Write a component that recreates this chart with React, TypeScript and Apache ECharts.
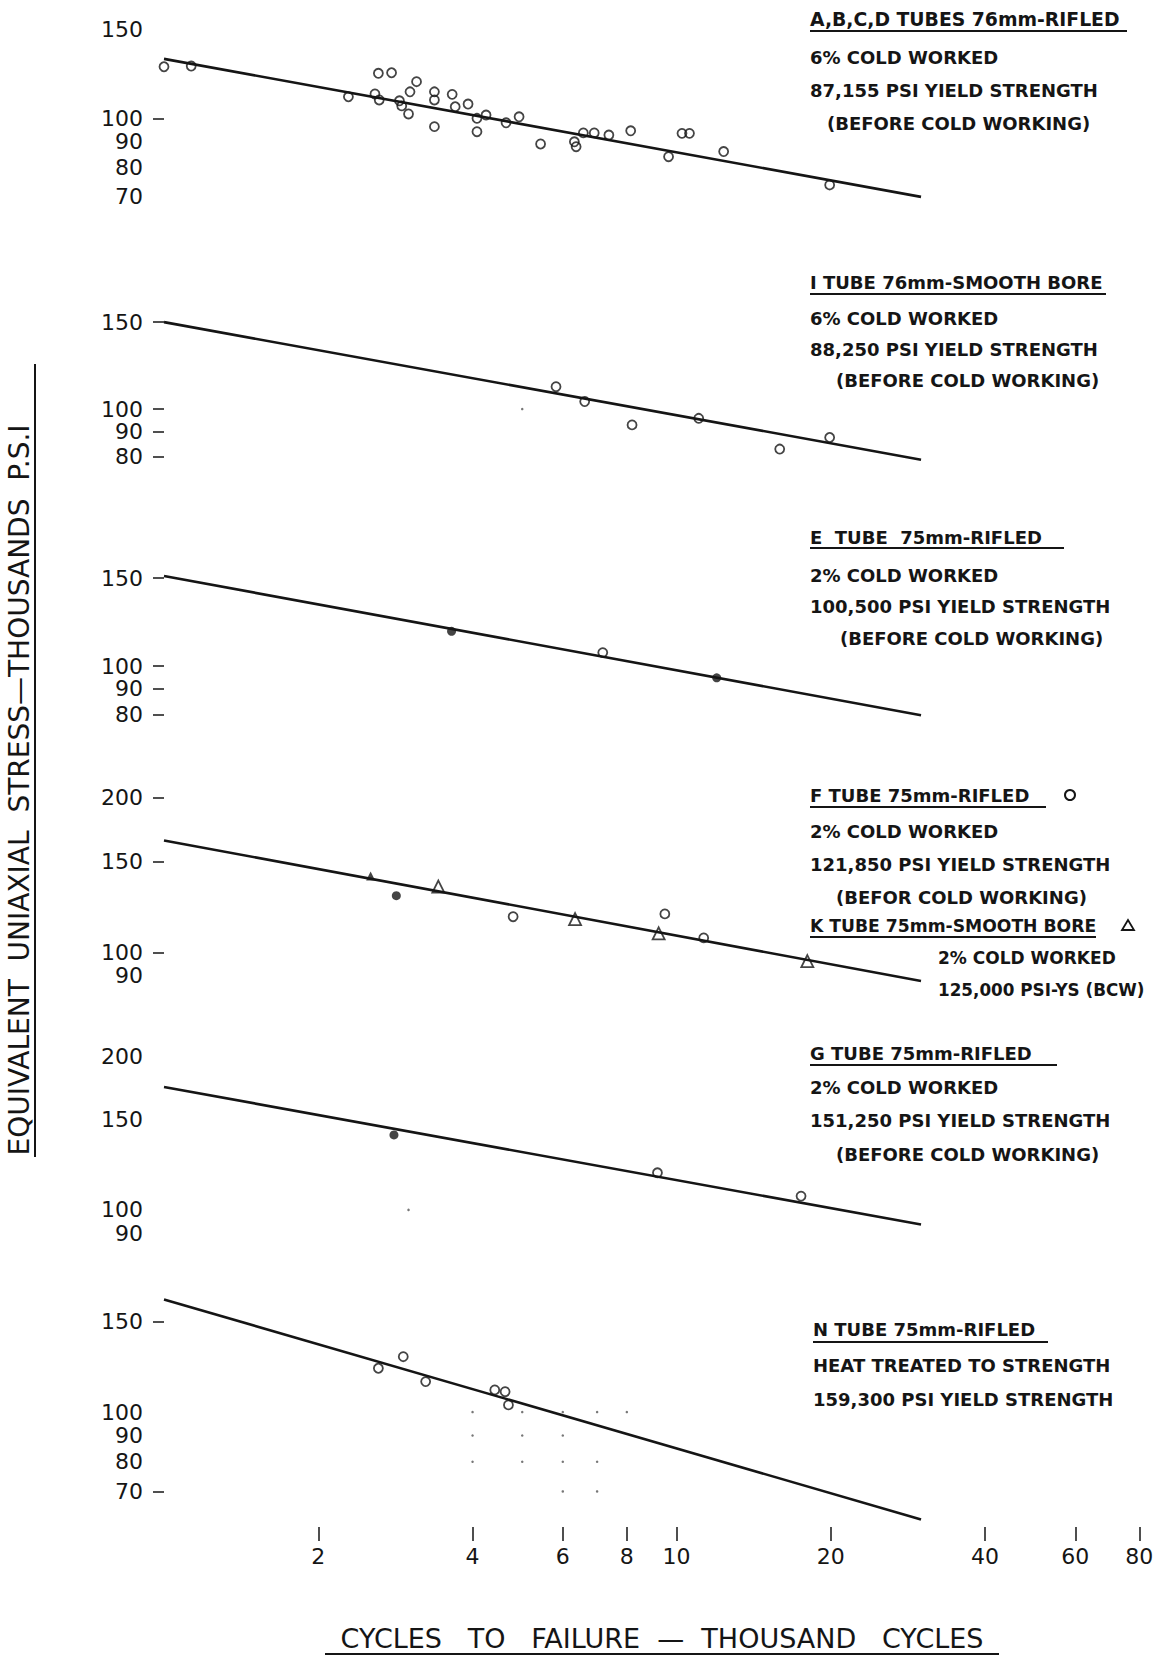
import React, { useEffect, useRef } from "react";
import * as echarts from "echarts";

// ---------- DATA ----------
// x axis (thousand cycles)
const xTickCycles = [2, 4, 6, 8, 10, 20, 40, 60, 80];

// Panel 1: A,B,C,D tubes 76mm rifled
const abcdCycles = [1.0, 1.13, 2.29, 2.62, 2.78, 2.58, 2.63, 2.88, 2.91, 3.0, 3.11, 3.02, 3.37, 3.37, 3.37, 3.65, 3.7, 3.92, 4.08, 4.08, 4.25, 4.65, 4.93, 5.43, 6.32, 6.37, 6.58, 6.91, 7.38, 8.14, 9.65, 10.25, 10.6, 12.36, 19.9];
const abcdStress = [126.4, 126.8, 110.3, 122.7, 123.0, 111.7, 108.7, 108.3, 105.8, 102.0, 118.1, 112.8, 112.8, 108.7, 96.3, 111.5, 105.4, 106.7, 100.0, 94.1, 101.5, 98.0, 100.7, 89.0, 89.9, 87.9, 93.6, 93.6, 92.7, 94.5, 84.0, 93.4, 93.4, 86.0, 73.9];
const abcdFitCycles = [1, 30];
const abcdFitStress = [131, 70];
const abcdTicks = [150, 100, 90, 80, 70];
const abcdDashes = [100];

// Panel 2: I tube 76mm smooth bore
const iCycles = [5.82, 6.62, 8.19, 11.05, 15.9, 19.9];
const iStress = [111.0, 103.6, 92.9, 95.8, 83.0, 87.6];
const iFitCycles = [1, 30];
const iFitStress = [150, 79];
const iDotCycles = [5];
const iDotStress = [100];
const iTicks = [150, 100, 90, 80];
const iDashes = [150, 100, 90, 80];

// Panel 3: E tube 75mm rifled
const eOpenCycles = [7.18];
const eOpenStress = [106.4];
const eFilledCycles = [3.64, 11.98];
const eFilledStress = [117.4, 94.7];
const eFitCycles = [1, 30];
const eFitStress = [151.5, 79.7];
const eTicks = [150, 100, 90, 80];
const eDashes = [150, 100, 90, 80];

// Panel 4: F tube (circles) and K tube (triangles)
const fOpenCycles = [4.8, 9.49, 11.3];
const fOpenStress = [117.3, 118.8, 106.7];
const fFilledCycles = [2.84];
const fFilledStress = [128.9];
const kOpenCycles = [3.43, 6.34, 9.23, 18.0];
const kOpenStress = [134.2, 116.1, 108.9, 96.2];
const kFilledCycles = [2.53];
const kFilledStress = [140.7];
const fkFitCycles = [1, 30];
const fkFitStress = [165, 88];
const fkTicks = [200, 150, 100, 90];
const fkDashes = [200, 150, 100];

// Panel 5: G tube 75mm rifled
const gOpenCycles = [9.18, 17.5];
const gOpenStress = [118.2, 106.4];
const gFilledCycles = [2.81];
const gFilledStress = [140.2];
const gFitCycles = [1, 30];
const gFitStress = [174, 93.6];
const gDotCycles = [3];
const gDotStress = [100];
const gTicks = [200, 150, 100, 90];
const gDashes: number[] = [];

// Panel 6: N tube 75mm rifled
const nCycles = [2.62, 2.93, 3.24, 4.42, 4.63, 4.7];
const nStress = [121.8, 128.3, 114.7, 110.5, 109.6, 103.3];
const nFitCycles = [1, 30];
const nFitStress = [166, 61.7];
const nDotCycles = [4, 5, 6, 7, 8, 4, 5, 6, 4, 5, 6, 7, 6, 7];
const nDotStress = [100, 100, 100, 100, 100, 90, 90, 90, 80, 80, 80, 80, 70, 70];
const nTicks = [150, 100, 90, 80, 70];
const nDashes = [150, 70];

// ---------- LAYOUT ----------
const LOG = (v: number) => Math.log10(v);
const toPts = (xs: number[], ys: number[]) => xs.map((x, i) => [LOG(x), LOG(ys[i])]);

const GRID_LEFT = 164;
const DECADE_PX = 512.5;
const X_MIN = LOG(1);
const X_MAX = LOG(85);
const GRID_W = DECADE_PX * (X_MAX - X_MIN);
const INK = "#151515";
const FONT = "DejaVu Sans";

type Mark = { kind: string; xs: number[]; ys: number[] };
type Panel = {
  top: number; height: number; yc: number; lc: number; dec: number;
  ticks: number[]; dashes: number[]; fit: [number[], number[]]; marks: Mark[];
};

const panels: Panel[] = [
  { top: 0, height: 230, yc: 130.7, lc: 1.9756, dec: 507, ticks: abcdTicks, dashes: abcdDashes,
    fit: [abcdFitCycles, abcdFitStress], marks: [{ kind: "open", xs: abcdCycles, ys: abcdStress }] },
  { top: 250, height: 230, yc: 405, lc: 2.0083, dec: 494, ticks: iTicks, dashes: iDashes,
    fit: [iFitCycles, iFitStress], marks: [{ kind: "open", xs: iCycles, ys: iStress }, { kind: "dot", xs: iDotCycles, ys: iDotStress }] },
  { top: 500, height: 240, yc: 661.9, lc: 2.0083, dec: 499, ticks: eTicks, dashes: eDashes,
    fit: [eFitCycles, eFitStress], marks: [{ kind: "open", xs: eOpenCycles, ys: eOpenStress }, { kind: "filled", xs: eFilledCycles, ys: eFilledStress }] },
  { top: 750, height: 250, yc: 896.9, lc: 2.1078, dec: 515, ticks: fkTicks, dashes: fkDashes,
    fit: [fkFitCycles, fkFitStress], marks: [
      { kind: "open", xs: fOpenCycles, ys: fOpenStress },
      { kind: "filled", xs: fFilledCycles, ys: fFilledStress },
      { kind: "tri", xs: kOpenCycles, ys: kOpenStress },
      { kind: "triFilled", xs: kFilledCycles, ys: kFilledStress },
    ] },
  { top: 1010, height: 240, yc: 1154.8, lc: 2.1078, dec: 511, ticks: gTicks, dashes: gDashes,
    fit: [gFitCycles, gFitStress], marks: [
      { kind: "open", xs: gOpenCycles, ys: gOpenStress },
      { kind: "filled", xs: gFilledCycles, ys: gFilledStress },
      { kind: "dot", xs: gDotCycles, ys: gDotStress },
    ] },
  { top: 1260, height: 267, yc: 1424.6, lc: 1.9756, dec: 512, ticks: nTicks, dashes: nDashes,
    fit: [nFitCycles, nFitStress], marks: [
      { kind: "open", xs: nCycles, ys: nStress },
      { kind: "dot", xs: nDotCycles, ys: nDotStress },
    ] },
];

const markStyle: Record<string, any> = {
  open: { symbol: "circle", symbolSize: 9, itemStyle: { color: "rgba(0,0,0,0)", borderColor: INK, borderWidth: 1.8 } },
  filled: { symbol: "circle", symbolSize: 9, itemStyle: { color: INK, borderColor: INK, borderWidth: 0 } },
  tri: { symbol: "triangle", symbolSize: 12, itemStyle: { color: "rgba(0,0,0,0)", borderColor: INK, borderWidth: 1.8 } },
  triFilled: { symbol: "triangle", symbolSize: 9, itemStyle: { color: INK, borderColor: INK, borderWidth: 0 } },
  dot: { symbol: "circle", symbolSize: 2.5, itemStyle: { color: "#555", borderWidth: 0 } },
};

const txt = (text: string, x: number, y: number, size = 18, weight: any = "bold", align = "left") => ({
  type: "text",
  x,
  y,
  style: {
    text,
    fontSize: size,
    fontFamily: FONT,
    fontWeight: weight,
    fill: INK,
    textAlign: align,
    align,
    textVerticalAlign: "middle",
    verticalAlign: "middle",
  },
});
const hline = (x1: number, x2: number, y: number, w = 2) => ({
  type: "line",
  shape: { x1, y1: y, x2, y2: y },
  style: { stroke: INK, lineWidth: w },
});

function buildOption() {
  const grids = panels.map((p) => ({
    left: GRID_LEFT, top: p.top, width: GRID_W, height: p.height, outerBoundsMode: "none",
  }));
  const xAxes = panels.map((p, i) => ({
    type: "value",
    gridIndex: i,
    min: X_MIN,
    max: X_MAX,
    show: i === panels.length - 1,
    position: "bottom",
    axisLine: { show: false },
    splitLine: { show: false },
    axisTick: { show: true, customValues: xTickCycles.map(LOG), length: 14, lineStyle: { color: INK, width: 1.5 } },
    axisLabel: {
      customValues: xTickCycles.map(LOG),
      margin: 18,
      fontFamily: FONT,
      fontSize: 22,
      color: INK,
      formatter: (v: number) => String(Math.round(Math.pow(10, v))),
    },
  }));
  const yAxes = panels.map((p, i) => {
    const yMax = p.lc + (p.yc - p.top) / p.dec;
    const yMin = p.lc - (p.top + p.height - p.yc) / p.dec;
    return {
      type: "value",
      gridIndex: i,
      min: yMin,
      max: yMax,
      offset: 4,
      axisLine: { show: false },
      splitLine: { show: false },
      axisTick: p.dashes.length
        ? { show: true, customValues: p.dashes.map(LOG), length: 11, lineStyle: { color: INK, width: 1.5 } }
        : { show: false },
      axisLabel: {
        customValues: p.ticks.map(LOG),
        margin: 17,
        fontFamily: FONT,
        fontSize: 22,
        color: INK,
        formatter: (v: number) => String(Math.round(Math.pow(10, v))),
      },
    };
  });
  const series: any[] = [];
  panels.forEach((p, i) => {
    series.push({
      type: "line",
      xAxisIndex: i,
      yAxisIndex: i,
      data: toPts(p.fit[0], p.fit[1]),
      symbol: "none",
      silent: true,
      z: 2,
      lineStyle: { color: INK, width: 2.6 },
    });
    p.marks.forEach((m) => {
      series.push({
        type: "scatter",
        xAxisIndex: i,
        yAxisIndex: i,
        data: toPts(m.xs, m.ys),
        z: 3,
        silent: true,
        ...markStyle[m.kind],
      });
    });
  });

  const elements: any[] = [
    // Panel 1
    txt("A,B,C,D TUBES 76mm-RIFLED", 810, 19, 18.8), hline(810, 1127, 31),
    txt("6% COLD WORKED", 810, 57),
    txt("87,155 PSI YIELD STRENGTH", 810, 90),
    txt("(BEFORE COLD WORKING)", 827, 123),
    // Panel 2
    txt("I TUBE 76mm-SMOOTH BORE", 810, 282), hline(810, 1106, 294),
    txt("6% COLD WORKED", 810, 318),
    txt("88,250 PSI YIELD STRENGTH", 810, 349),
    txt("(BEFORE COLD WORKING)", 836, 380),
    // Panel 3
    txt("E  TUBE  75mm-RIFLED", 810, 537), hline(810, 1064, 548),
    txt("2% COLD WORKED", 810, 575),
    txt("100,500 PSI YIELD STRENGTH", 810, 606),
    txt("(BEFORE COLD WORKING)", 840, 638),
    // Panel 4
    txt("F TUBE 75mm-RIFLED", 810, 795), hline(810, 1046, 807),
    { type: "circle", shape: { cx: 1070, cy: 795, r: 5 }, style: { fill: "none", stroke: INK, lineWidth: 2 } },
    txt("2% COLD WORKED", 810, 831),
    txt("121,850 PSI YIELD STRENGTH", 810, 864),
    txt("(BEFOR COLD WORKING)", 836, 897),
    txt("K TUBE 75mm-SMOOTH BORE", 810, 926, 17.2), hline(810, 1096, 937),
    { type: "polygon", shape: { points: [[1128, 920], [1122, 930], [1134, 930]] }, style: { fill: "none", stroke: INK, lineWidth: 1.8 } },
    txt("2% COLD WORKED", 938, 958, 17),
    txt("125,000 PSI-YS (BCW)", 938, 990, 16.8),
    // Panel 5
    txt("G TUBE 75mm-RIFLED", 810, 1053), hline(810, 1057, 1065),
    txt("2% COLD WORKED", 810, 1087),
    txt("151,250 PSI YIELD STRENGTH", 810, 1120),
    txt("(BEFORE COLD WORKING)", 836, 1154),
    // Panel 6
    txt("N TUBE 75mm-RIFLED", 813, 1329), hline(813, 1048, 1342),
    txt("HEAT TREATED TO STRENGTH", 813, 1365),
    txt("159,300 PSI YIELD STRENGTH", 813, 1399),
    // Axis titles
    txt("CYCLES   TO   FAILURE  —  THOUSAND   CYCLES", 662, 1638, 27, "normal", "center"),
    hline(325, 999, 1654, 2),
    {
      type: "text",
      x: 19,
      y: 790,
      rotation: Math.PI / 2,
      style: {
        text: "EQUIVALENT  UNIAXIAL  STRESS—THOUSANDS  P.S.I",
        fontSize: 28,
        fontFamily: FONT,
        fill: INK,
        textAlign: "center",
        align: "center",
        textVerticalAlign: "middle",
        verticalAlign: "middle",
      },
    },
    { type: "line", shape: { x1: 35, y1: 364, x2: 35, y2: 1157 }, style: { stroke: INK, lineWidth: 2 } },
  ];

  return {
    animation: false,
    backgroundColor: "#ffffff",
    grid: grids,
    xAxis: xAxes,
    yAxis: yAxes,
    series,
    graphic: { elements },
  };
}

export default function App() {
  const ref = useRef<HTMLDivElement>(null);
  useEffect(() => {
    if (!ref.current) return;
    const chart = echarts.init(ref.current, undefined, { renderer: "svg" });
    chart.setOption(buildOption() as any);
    return () => chart.dispose();
  }, []);
  return (
    <div
      ref={ref}
      style={{ position: "absolute", left: 0, top: 0, width: "1156px", height: "1657px", background: "#fff" }}
    />
  );
}
